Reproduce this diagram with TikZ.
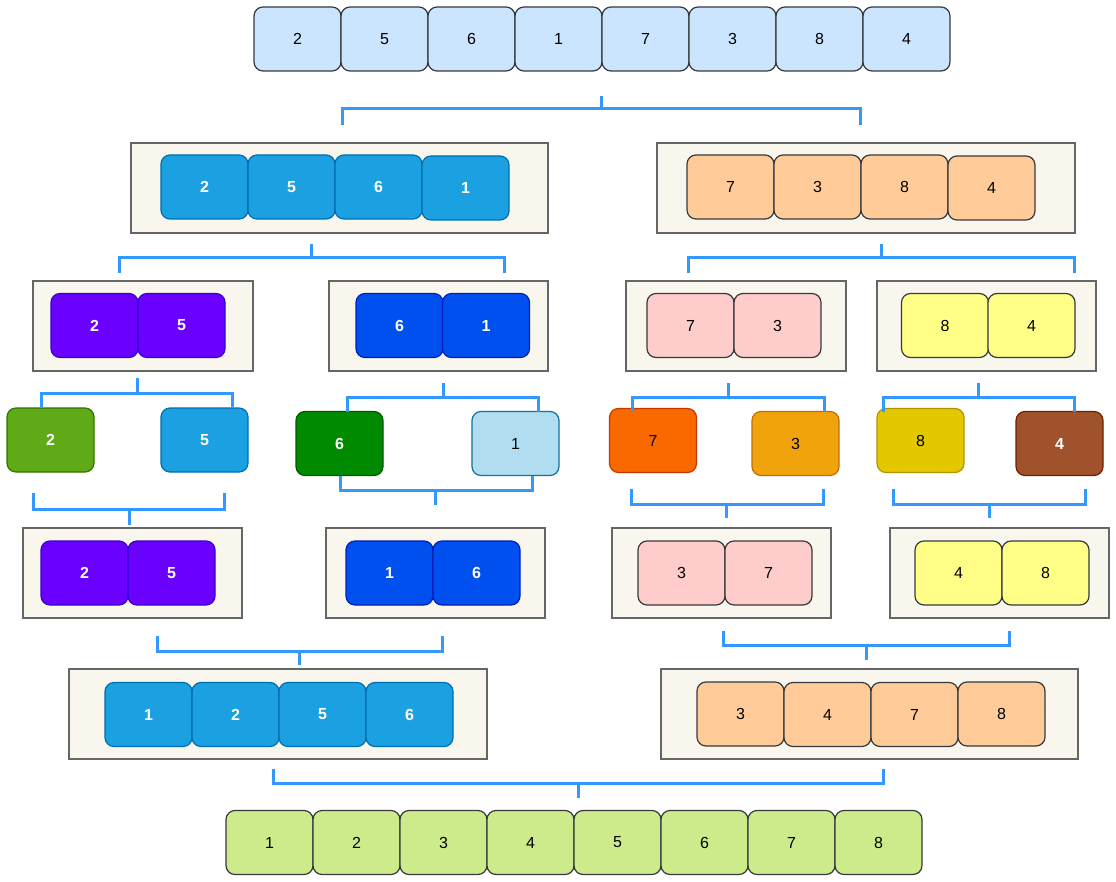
\documentclass[tikz,border=0pt]{standalone}
\usepackage{fontspec}
\setmainfont{Liberation Sans}
\definecolor{cTop}{HTML}{CCE5FF}
\definecolor{cDark}{HTML}{36393D}
\definecolor{cBlue}{HTML}{1BA1E2}
\definecolor{cBlueS}{HTML}{006EAF}
\definecolor{cPeach}{HTML}{FFCC99}
\definecolor{cViolet}{HTML}{6A00FF}
\definecolor{cVioletS}{HTML}{3700CC}
\definecolor{cCobalt}{HTML}{0050EF}
\definecolor{cCobaltS}{HTML}{001DBC}
\definecolor{cPink}{HTML}{FFCCCC}
\definecolor{cYellow}{HTML}{FFFF88}
\definecolor{cGreen}{HTML}{60A917}
\definecolor{cGreenS}{HTML}{2D7600}
\definecolor{cDGreen}{HTML}{008A00}
\definecolor{cDGreenS}{HTML}{005700}
\definecolor{cLBlue}{HTML}{B1DDF0}
\definecolor{cLBlueS}{HTML}{10739E}
\definecolor{cOrange}{HTML}{FA6800}
\definecolor{cOrangeS}{HTML}{C73500}
\definecolor{cAmber}{HTML}{F0A30A}
\definecolor{cAmberS}{HTML}{BD7000}
\definecolor{cMustard}{HTML}{E3C800}
\definecolor{cMustardS}{HTML}{B09500}
\definecolor{cBrown}{HTML}{A0522D}
\definecolor{cBrownS}{HTML}{6D1F00}
\definecolor{cLime}{HTML}{CDEB8B}
\definecolor{cCont}{HTML}{F9F7ED}
\definecolor{cContS}{HTML}{666666}
\definecolor{cBr}{HTML}{3399FF}
\tikzset{
  cell/.style={draw, rounded corners=9pt, minimum width=87pt, minimum height=64pt,
    inner sep=0pt, outer sep=0pt, line width=1.2pt, font=\fontsize{16}{19}\selectfont},
  wtxt/.style={text=white, font=\fontsize{16}{19}\selectfont\bfseries},
  topc/.style={cell, fill=cTop, draw=cDark},
  bluec/.style={cell, fill=cBlue, draw=cBlueS, wtxt},
  peachc/.style={cell, fill=cPeach, draw=cDark},
  violetc/.style={cell, fill=cViolet, draw=cVioletS, wtxt},
  cobaltc/.style={cell, fill=cCobalt, draw=cCobaltS, wtxt},
  pinkc/.style={cell, fill=cPink, draw=cDark},
  yellowc/.style={cell, fill=cYellow, draw=cDark},
  limec/.style={cell, fill=cLime, draw=cDark},
  cont/.style={draw=cContS, fill=cCont, line width=1.5pt, inner sep=0pt, outer sep=0pt, minimum height=90pt},
  br/.style={draw=cBr, line width=3pt, line join=miter},
}
\begin{document}
\begin{tikzpicture}[x=1pt,y=-1pt]
\useasboundingbox (0,0) rectangle (1116,882);
\fill[white] (0,0) rectangle (1116,882);
% top row
\node[topc] (t1) at (297.5,39) {2};
\node[topc] (t2) at (384.5,39) {5};
\node[topc] (t3) at (471.5,39) {6};
\node[topc] (t4) at (558.5,39) {1};
\node[topc] (t5) at (645.5,39) {7};
\node[topc] (t6) at (732.5,39) {3};
\node[topc] (t7) at (819.5,39) {8};
\node[topc] (t8) at (906.5,39) {4};
% row 2
\node[cont, minimum width=417pt] (c2L) at (339.5,188) {};
\node[cont, minimum width=418pt] (c2R) at (866,188) {};
\node[bluec] (a1) at (204.5,187) {2};
\node[bluec] (a2) at (291.5,187) {5};
\node[bluec] (a3) at (378.5,187) {6};
\node[bluec] (a4) at (465.5,188) {1};
\node[peachc] (a5) at (730.5,187) {7};
\node[peachc] (a6) at (817.5,187) {3};
\node[peachc] (a7) at (904.5,187) {8};
\node[peachc] (a8) at (991.5,188) {4};
% row 3
\node[cont, minimum width=220pt] (c3a) at (143,326) {};
\node[cont, minimum width=219pt] (c3b) at (438.5,326) {};
\node[cont, minimum width=220pt] (c3c) at (736,326) {};
\node[cont, minimum width=219pt] (c3d) at (986.5,326) {};
\node[violetc] (d1) at (94.5,325.5) {2};
\node[violetc] (d2) at (181.5,325.5) {5};
\node[cobaltc] (d3) at (399.5,325.5) {6};
\node[cobaltc] (d4) at (486,325.5) {1};
\node[pinkc] (d5) at (690.5,325.5) {7};
\node[pinkc] (d6) at (777.5,325.5) {3};
\node[yellowc] (d7) at (945,325.5) {8};
\node[yellowc] (d8) at (1031.5,325.5) {4};
% row 4 singles
\node[cell, fill=cGreen, draw=cGreenS, wtxt] (s1) at (50.5,440) {2};
\node[bluec] (s2) at (204.5,440) {5};
\node[cell, fill=cDGreen, draw=cDGreenS, wtxt] (s3) at (339.5,443.5) {6};
\node[cell, fill=cLBlue, draw=cLBlueS] (s4) at (515.5,443.5) {1};
\node[cell, fill=cOrange, draw=cOrangeS] (s5) at (653,440.5) {7};
\node[cell, fill=cAmber, draw=cAmberS] (s6) at (795.5,443.5) {3};
\node[cell, fill=cMustard, draw=cMustardS] (s7) at (920.5,440.5) {8};
\node[cell, fill=cBrown, draw=cBrownS, wtxt] (s8) at (1059.5,443.5) {4};
% row 5
\node[cont, minimum width=219pt] (c5a) at (132.5,573) {};
\node[cont, minimum width=219pt] (c5b) at (435.5,573) {};
\node[cont, minimum width=219pt] (c5c) at (721.5,573) {};
\node[cont, minimum width=219pt] (c5d) at (999.5,573) {};
\node[violetc] (e1) at (84.5,573) {2};
\node[violetc] (e2) at (171.5,573) {5};
\node[cobaltc] (e3) at (389.5,573) {1};
\node[cobaltc] (e4) at (476.5,573) {6};
\node[pinkc] (e5) at (681.5,573) {3};
\node[pinkc] (e6) at (768.5,573) {7};
\node[yellowc] (e7) at (958.5,573) {4};
\node[yellowc] (e8) at (1045.5,573) {8};
% row 6
\node[cont, minimum width=418pt] (c6L) at (278,714) {};
\node[cont, minimum width=417pt] (c6R) at (869.5,714) {};
\node[bluec] (f1) at (148.5,714.5) {1};
\node[bluec] (f2) at (235.5,714.5) {2};
\node[bluec] (f3) at (322.5,714.5) {5};
\node[bluec] (f4) at (409.5,714.5) {6};
\node[peachc] (f5) at (740.5,714) {3};
\node[peachc] (f6) at (827.5,714.5) {4};
\node[peachc] (f7) at (914.5,714.5) {7};
\node[peachc] (f8) at (1001.5,714) {8};
% row 7
\node[limec] (g1) at (269.5,842.5) {1};
\node[limec] (g2) at (356.5,842.5) {2};
\node[limec] (g3) at (443.5,842.5) {3};
\node[limec] (g4) at (530.5,842.5) {4};
\node[limec] (g5) at (617.5,842.5) {5};
\node[limec] (g6) at (704.5,842.5) {6};
\node[limec] (g7) at (791.5,842.5) {7};
\node[limec] (g8) at (878.5,842.5) {8};
% bracket junctions
\coordinate (j1) at (601,109);
\coordinate (j2L) at (311,258);
\coordinate (j2R) at (881,258);
\coordinate (j3a) at (137,393);
\coordinate (j3b) at (443,397);
\coordinate (j3c) at (728,397);
\coordinate (j3d) at (978,397);
\coordinate (m4a) at (129,509);
\coordinate (m4b) at (435,490);
\coordinate (m4c) at (726,504);
\coordinate (m4d) at (989,504);
\coordinate (m5L) at (299,651);
\coordinate (m5R) at (866,645);
\coordinate (m6) at (578,783);
% split brackets
\draw[br] (j1) -- ++(0,-13);
\draw[br] (342,125) |- (j1) -| (860,125);
\draw[br] (j2L) -- ++(0,-14);
\draw[br] (119,273) |- (j2L) -| (504,273);
\draw[br] (j2R) -- ++(0,-14);
\draw[br] (688,273) |- (j2R) -| (1074,273);
\draw[br] (j3a) -- ++(0,-15);
\draw[br] (41,407) |- (j3a) -| (232,407);
\draw[br] (j3b) -- ++(0,-14);
\draw[br] (347,412) |- (j3b) -| (538,412);
\draw[br] (j3c) -- ++(0,-14);
\draw[br] (632,412) |- (j3c) -| (824,412);
\draw[br] (j3d) -- ++(0,-14);
\draw[br] (883,412) |- (j3d) -| (1074,412);
% merge brackets
\draw[br] (33,493) |- (m4a) -| (224,493);
\draw[br] (m4a) -- ++(0,16);
\draw[br] (340,476) |- (m4b) -| (532,476);
\draw[br] (m4b) -- ++(0,15);
\draw[br] (631,489) |- (m4c) -| (823,489);
\draw[br] (m4c) -- ++(0,14);
\draw[br] (893,489) |- (m4d) -| (1085,489);
\draw[br] (m4d) -- ++(0,14);
\draw[br] (157,636) |- (m5L) -| (442,636);
\draw[br] (m5L) -- ++(0,14);
\draw[br] (723,631) |- (m5R) -| (1009,631);
\draw[br] (m5R) -- ++(0,15);
\draw[br] (273,769) |- (m6) -| (883,769);
\draw[br] (m6) -- ++(0,15);
\end{tikzpicture}
\end{document}
